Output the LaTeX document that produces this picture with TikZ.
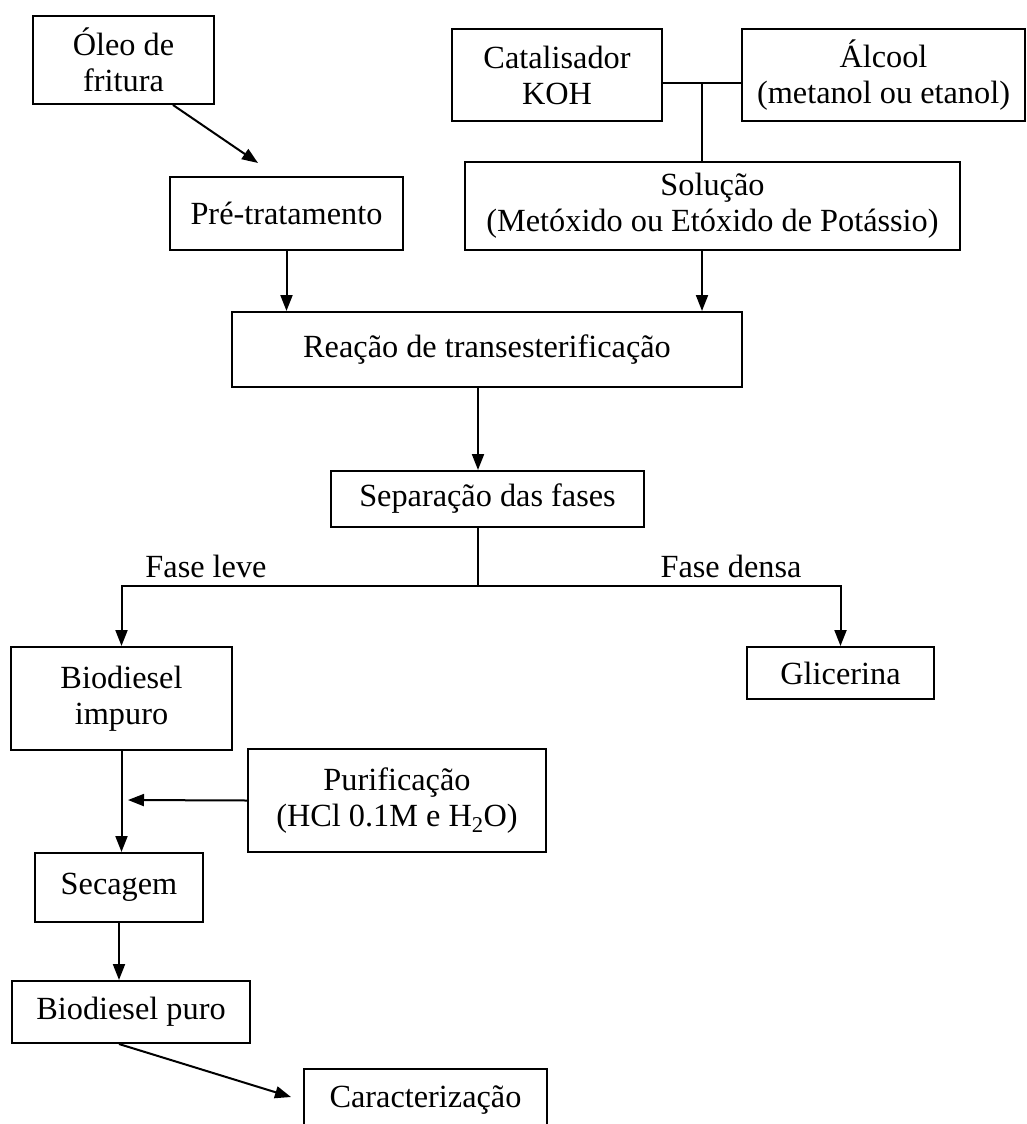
\documentclass[tikz,border=0pt]{standalone}
\usepackage{fontspec}
\setmainfont{Liberation Serif}
\usetikzlibrary{arrows.meta, calc}
\tikzset{->, >={Triangle[length=16pt, width=12pt]},
    font=\fontsize{32.3}{36}\selectfont}
\tikzset{box/.style={shape=rectangle, draw, fill=white, align=center,
    inner sep=0pt}}

\begin{document}
\begin{tikzpicture}[x=1pt, y=-1pt, line width=2pt]
      \clip (0,0) rectangle (1027,1124);
      % entradas
      \node[box, minimum width=181, minimum height=88] (oleo) at (123.5,60) {Óleo de\\fritura};
      \node[box, minimum width=233, minimum height=73] (pre) at (286.5,213.5) {Pré-tratamento};
      \node[box, minimum width=210, minimum height=92] (cat) at (557,75) {Catalisador\\KOH};
      \node[box, minimum width=283, minimum height=92] (alc) at (883.5,75) {Álcool\\(metanol ou etanol)};
      \node[box, minimum width=495, minimum height=88] (sol) at (712.5,206) {Solução\\(Metóxido ou Etóxido de Potássio)};
      % reacao e separacao
      \node[box, minimum width=510, minimum height=75] (reac) at (487,349.5) {Reação de transesterificação};
      \node[box, minimum width=313, minimum height=56] (sep) at (487.5,499) {Separação das fases};
      \node[box, minimum width=221, minimum height=103] (imp) at (121.5,698.5) {Biodiesel\\impuro};
      \node[box, minimum width=187, minimum height=52] (gli) at (840.5,673) {Glicerina};
      \node[box, minimum width=298, minimum height=103] (pur) at (397,800.5) {Purificação\\(HCl 0.1M e H\textsubscript{2}O)};
      \node[box, minimum width=168, minimum height=69] (sec) at (119,887.5) {Secagem};
      \node[box, minimum width=238, minimum height=62] (puro) at (131,1012) {Biodiesel puro};
      \node[box, minimum width=243, minimum height=62] (car) at (425.5,1100) {Caracterização};
      \node (leve) at (206,566) {Fase leve};
      \node (densa) at (731,566) {Fase densa};

      \coordinate (mix) at (702,83);
      \coordinate (split) at (478,586);
      \coordinate (preIn) at (258,163);
      \coordinate (purOut) at (128,800);
      \coordinate (carIn) at (291,1097);

      \draw ($(oleo.south east)+(-42,0)$) -- (preIn);
      \draw (pre.south) -- (pre.south |- reac.north);
      \draw[-] (cat.east |- mix) -- (alc.west |- mix);
      \draw[-] (mix) -- (mix |- sol.north);
      \draw (mix |- sol.south) -- (mix |- reac.north);
      \draw (reac.south -| split) -- (sep.north -| split);
      \draw[-] (sep.south -| split) -- (split);
      \draw (split) -| (imp.north);
      \draw (split) -| (gli.north);
      \draw (imp.south) -- (imp.south |- sec.north);
      \draw (pur.west) -- (purOut);
      \draw (sec.south) -- (sec.south |- puro.north);
      \draw ($(puro.south)+(-12,0)$) -- (carIn);
\end{tikzpicture}
\end{document}
